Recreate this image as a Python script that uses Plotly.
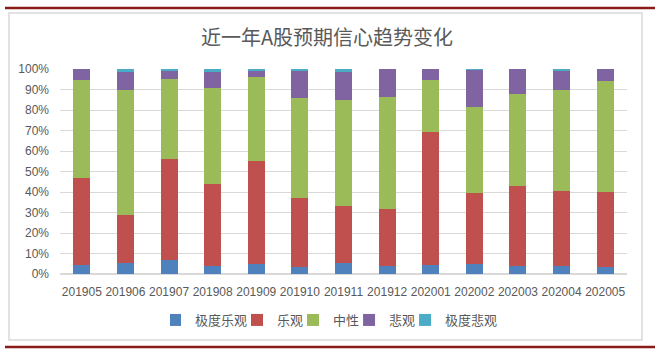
import plotly.graph_objects as go

categories = ["201905", "201906", "201907", "201908", "201909", "201910", "201911",
              "201912", "202001", "202002", "202003", "202004", "202005"]
very_optimistic = [4.2, 5.5, 7.0, 3.9, 4.7, 3.6, 5.2, 3.9, 4.4, 4.7, 3.9, 3.9, 3.2]
optimistic = [42.4, 23.1, 49.0, 39.9, 50.5, 33.7, 28.1, 27.9, 65.1, 34.7, 38.8, 36.7, 36.9]
neutral = [48.2, 61.0, 39.1, 46.9, 40.7, 48.7, 51.8, 54.6, 25.1, 42.1, 45.1, 49.0, 54.2]
pessimistic = [5.2, 8.8, 3.9, 7.7, 3.6, 13.4, 13.4, 13.6, 5.4, 18.2, 12.2, 9.6, 5.7]
very_pessimistic = [0.0, 1.6, 1.0, 1.6, 0.5, 0.6, 1.5, 0.0, 0.0, 0.3, 0.0, 0.8, 0.0]
ytick_vals = [0, 10, 20, 30, 40, 50, 60, 70, 80, 90, 100]
ytick_labels = ["0%", "10%", "20%", "30%", "40%", "50%", "60%", "70%", "80%", "90%", "100%"]

series = [
    ("极度乐观", very_optimistic, "#4F81BD"),
    ("乐观", optimistic, "#C0504D"),
    ("中性", neutral, "#9BBB59"),
    ("悲观", pessimistic, "#8064A2"),
    ("极度悲观", very_pessimistic, "#4BACC6"),
]

fig = go.Figure()
for name, vals, color in series:
    fig.add_trace(go.Bar(x=categories, y=vals, name=name, marker=dict(color=color, line=dict(width=0))))

W, H = 660, 353
L, R, T, B = 60, 627, 69, 274
pw, ph = R - L, B - T


def px(x):
    return (x - L) / pw


def py(y):
    return (B - y) / ph


shapes = [
    dict(type="rect", xref="paper", yref="paper", x0=px(9), x1=px(642), y0=py(340), y1=py(13),
         line=dict(color="#d9d9d9", width=1.5), fillcolor="rgba(0,0,0,0)", layer="below"),
    dict(type="line", xref="paper", yref="paper", x0=px(5), x1=px(655), y0=py(8), y1=py(8),
         line=dict(color="#8B1A1A", width=2.5)),
    dict(type="line", xref="paper", yref="paper", x0=px(5), x1=px(655), y0=py(347), y1=py(347),
         line=dict(color="#8B1A1A", width=2.5)),
]

fig.update_layout(
    width=W, height=H,
    margin=dict(l=L, r=W - R, t=T, b=H - B, pad=0),
    paper_bgcolor="white", plot_bgcolor="white",
    barmode="stack", bargap=0.61,
    title=dict(text="近一年A股预期信心趋势变化", x=px(327), xanchor="center", xref="paper",
               y=1 - 38 / H, yanchor="middle",
               font=dict(family="Noto Sans CJK SC", size=20, color="#595959")),
    font=dict(family="Liberation Sans", size=12, color="#595959"),
    xaxis=dict(type="category", showgrid=False, showline=False, ticks="",
               ticklabelstandoff=9,
               tickfont=dict(size=12, color="#595959"), fixedrange=True),
    yaxis=dict(range=[0, 100], tickmode="array", tickvals=ytick_vals, ticktext=ytick_labels,
               showgrid=True, gridcolor="#d9d9d9", gridwidth=1, zeroline=True, zerolinecolor="#d9d9d9",
               showline=False, ticks="", ticklabelstandoff=10,
               tickfont=dict(size=12, color="#595959"), fixedrange=True),
    legend=dict(orientation="h", x=px(170), xanchor="left", y=py(320), yanchor="middle",
                font=dict(family="Noto Sans CJK SC", size=13, color="#595959"),
                itemwidth=30, indentation=-15, traceorder="normal", bgcolor="rgba(0,0,0,0)"),
    shapes=shapes,
    hovermode=False,
)

fig.write_html("out.html")
